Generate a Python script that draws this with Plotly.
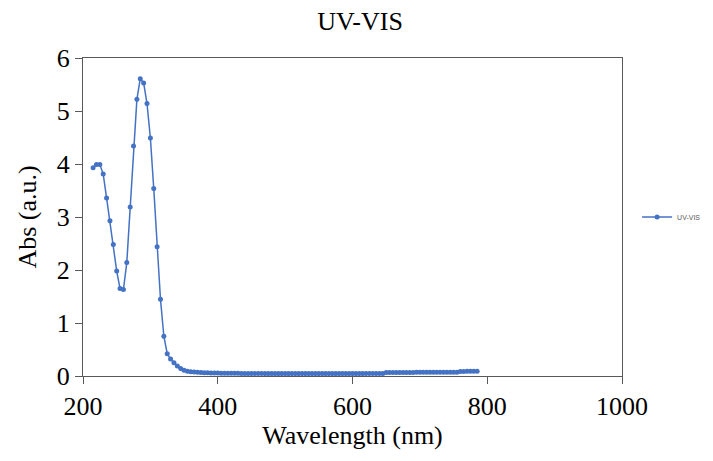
import plotly.graph_objects as go

wavelength = [
    215, 220, 225, 230, 235, 240, 245, 250, 255, 260,
    265, 270, 275, 280, 285, 290, 295, 300, 305, 310,
    315, 320, 325, 330, 335, 340, 345, 350, 355, 360,
    365, 370, 375, 380, 385, 390, 395, 400, 405, 410,
    415, 420, 425, 430, 435, 440, 445, 450, 455, 460,
    465, 470, 475, 480, 485, 490, 495, 500, 505, 510,
    515, 520, 525, 530, 535, 540, 545, 550, 555, 560,
    565, 570, 575, 580, 585, 590, 595, 600, 605, 610,
    615, 620, 625, 630, 635, 640, 645, 650, 655, 660,
    665, 670, 675, 680, 685, 690, 695, 700, 705, 710,
    715, 720, 725, 730, 735, 740, 745, 750, 755, 760,
    765, 770, 775, 780, 785,
]

absorbance = [
    3.93, 3.99, 3.99, 3.81, 3.36, 2.93, 2.48, 1.98, 1.65, 1.63,
    2.14, 3.19, 4.34, 5.22, 5.61, 5.53, 5.14, 4.49, 3.54, 2.44,
    1.45, 0.75, 0.42, 0.32, 0.25, 0.19, 0.14, 0.11, 0.09, 0.08,
    0.075, 0.07, 0.065, 0.062, 0.06, 0.058, 0.056, 0.055, 0.054, 0.053,
    0.052, 0.051, 0.050, 0.050, 0.049, 0.049, 0.048, 0.048, 0.047, 0.047,
    0.047, 0.046, 0.046, 0.046, 0.046, 0.045, 0.045, 0.045, 0.045, 0.045,
    0.045, 0.045, 0.045, 0.045, 0.045, 0.045, 0.045, 0.045, 0.045, 0.045,
    0.045, 0.045, 0.045, 0.045, 0.046, 0.046, 0.046, 0.046, 0.046, 0.046,
    0.046, 0.047, 0.047, 0.047, 0.047, 0.047, 0.048, 0.066, 0.066, 0.067,
    0.067, 0.067, 0.068, 0.068, 0.068, 0.068, 0.069, 0.069, 0.069, 0.069,
    0.070, 0.070, 0.070, 0.070, 0.071, 0.071, 0.071, 0.072, 0.072, 0.086,
    0.087, 0.088, 0.088, 0.089, 0.090,
]

x_ticks = [200, 400, 600, 800, 1000]
y_ticks = [0, 1, 2, 3, 4, 5, 6]

series_name = "UV-VIS"
chart_title = "UV-VIS"
x_title = "Wavelength (nm)"
y_title = "Abs (a.u.)"

blue = "#4472C4"
axis_col = "#595959"
serif = "Liberation Serif"
sans = "Liberation Sans"


def sfont(size):
    return dict(family=serif, size=size, color="#000000")


fig = go.Figure()
fig.add_trace(go.Scatter(
    x=wavelength, y=absorbance, mode="lines+markers", name=series_name,
    line=dict(color=blue, width=1.5),
    marker=dict(color=blue, size=5),
))

fig.update_layout(
    width=713, height=461,
    margin=dict(l=83, r=91, t=58, b=85, autoexpand=False),
    paper_bgcolor="white", plot_bgcolor="white",
    font=sfont(26),
    title=dict(text=chart_title, x=360 / 713, xanchor="center",
               y=0.955, yanchor="middle", yref="container",
               font=sfont(26)),
    showlegend=True,
    legend=dict(x=1.028, xanchor="left", y=0.5, yanchor="middle",
                font=dict(family=sans, size=7, color="#595959"),
                itemwidth=30, bgcolor="rgba(0,0,0,0)"),
    xaxis=dict(range=[200, 1000], tickvals=x_ticks, ticks="outside", ticklen=7,
               tickcolor=axis_col, linecolor=axis_col, linewidth=1, mirror=True,
               showgrid=False, zeroline=False,
               tickfont=sfont(26), title=dict(text=x_title, font=sfont(26), standoff=5)),
    yaxis=dict(range=[0, 6], tickvals=y_ticks, ticks="outside", ticklen=7,
               tickcolor=axis_col, linecolor=axis_col, linewidth=1, mirror=True,
               showgrid=False, zeroline=False,
               tickfont=sfont(26), title=dict(text=y_title, font=sfont(26), standoff=12)),
)

fig.write_html("out.html")
